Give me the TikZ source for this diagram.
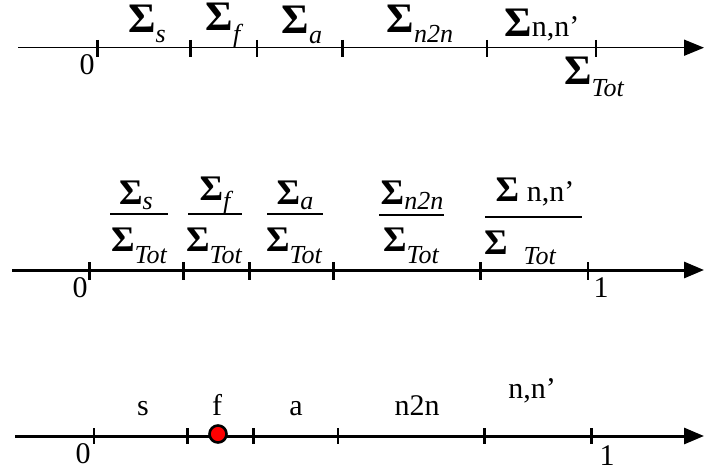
\documentclass[tikz,border=0pt]{standalone}
\usepackage{fontspec}
\setmainfont{Liberation Serif}
\usetikzlibrary{arrows.meta,positioning}

\newcommand{\sig}[2][-5pt]{{\bfseries\fontsize{21}{21}\selectfont Σ}\raisebox{#1}{\fontsize{13}{13}\selectfont\itshape #2}}
\newcommand{\sigfr}[2][-2.5pt]{{\bfseries\fontsize{18}{18}\selectfont Σ}\raisebox{#1}{\fontsize{13}{13}\selectfont\itshape #2}}

\begin{document}
\begin{tikzpicture}[x=0.5pt,y=-0.5pt,>={Triangle[length=10pt,width=8pt]},
  lbl/.style={font=\fontsize{15}{15}\selectfont,inner sep=0pt,anchor=base},
  axis/.style={->,line width=1.5pt},
  tick/.style={line width=1.5pt},
  thintick/.style={line width=0.8pt},
  bar/.style={line width=0.6pt}]
  \useasboundingbox (0,0) rectangle (704,470);

  % first line: cross sections
  \coordinate (s1) at (18,47.7);
  \coordinate (e1) at (704,47.7);
  \draw[axis,line width=0.8pt] (s1) -- (e1);
  \foreach \x in {97,190,342} \draw[tick] (\x,40) -- (\x,57);
  \foreach \x in {257,487,596} \draw[thintick] (\x,40) -- (\x,57);
  \node[lbl] (z1) at (87,75) {0};
  \node[lbl] (xs) at (147,33) {\sig{s}};
  \node[lbl] (xf) at (223,31) {\sig[-6pt]{f}};
  \node[lbl] (xa) at (302,34) {\sig{a}};
  \node[lbl] (xn2n) at (420,33) {\sig{n2n}};
  \node[lbl] (xnn) at (542,37) {{\bfseries\fontsize{21}{21}\selectfont Σ}n,n’};
  \node[lbl] (xtot) at (594,85) {\sig[-6pt]{Tot}};

  % second line: ratios
  \coordinate (s2) at (12,270);
  \coordinate (e2) at (704,270);
  \draw[axis] (s2) -- (e2);
  \foreach \x in {89,183,249,333,480} \draw[tick] (\x,262) -- (\x,280);
  \draw[thintick] (588,262) -- (588,280);
  \node[lbl] (z2) at (80,297) {0};
  \node[lbl] (o2) at (601,297) {1};
  \node[lbl] (ns) at (136,204) {\sigfr{s}};
  \draw[bar] (110,214) -- (168,214);
  \node[lbl] (ds) at (139,251) {\sigfr[-6pt]{Tot}};
  \node[lbl] (nf) at (215,200) {\sigfr[-4.5pt]{f}};
  \draw[bar] (188,214) -- (242,214);
  \node[lbl] (df) at (214,251) {\sigfr[-6pt]{Tot}};
  \node[lbl] (na) at (295,204) {\sigfr{a}};
  \draw[bar] (267,214) -- (323,214);
  \node[lbl] (da) at (294,251) {\sigfr[-6pt]{Tot}};
  \node[lbl] (nn2n) at (412,204) {\sigfr{n2n}};
  \draw[bar] (379,215) -- (444,215);
  \node[lbl] (dn2n) at (411,251) {\sigfr[-6pt]{Tot}};
  \node[lbl] (nnn) at (535,201) {{\bfseries\fontsize{18}{18}\selectfont Σ} n,n’};
  \draw[bar] (485,217) -- (582,217);
  \node[lbl] (dnn) at (520,254) {\sigfr[-5pt]{\hspace{8pt}Tot}};

  % third line: sampled reaction
  \coordinate (s3) at (15,436);
  \coordinate (e3) at (704,436);
  \draw[axis] (s3) -- (e3);
  \foreach \x in {187,253,484,591} \draw[tick] (\x,428) -- (\x,444);
  \foreach \x in {94,338} \draw[thintick] (\x,428) -- (\x,444);
  \node[lbl] (z3) at (83,463) {0};
  \node[lbl] (o3) at (607,465) {1};
  \node[lbl] (rs) at (143,415) {s};
  \node[lbl] (rf) at (217,415) {f};
  \node[lbl] (ra) at (296,415) {a};
  \node[lbl] (rn2n) at (417,415) {n2n};
  \node[lbl] (rnn) at (532,398) {n,n’};
  \node[circle,fill=red,draw=black,line width=1.3pt,minimum size=8.5pt,inner sep=0pt] (pick) at (218,434) {};
\end{tikzpicture}
\end{document}
